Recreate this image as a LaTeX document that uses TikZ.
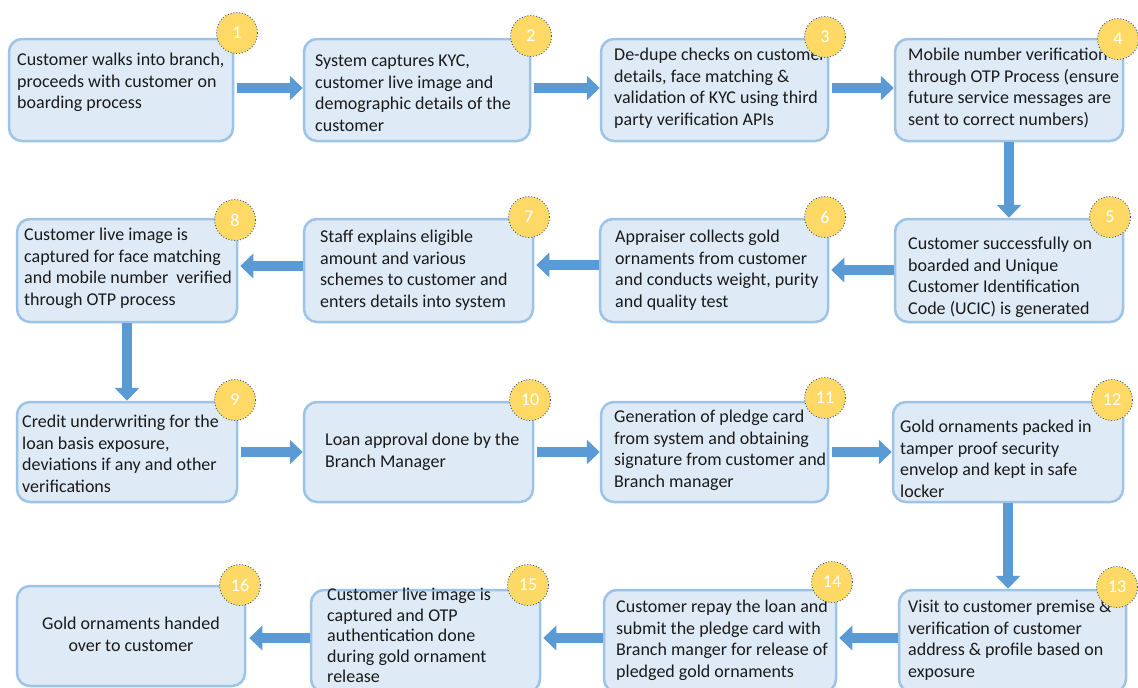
\documentclass[tikz,border=0pt]{standalone}
\usepackage{fontspec}
\setmainfont{Carlito}
\usetikzlibrary{arrows.meta}
\definecolor{boxfill}{HTML}{DEEBF7}
\definecolor{boxline}{HTML}{9DC3E6}
\definecolor{flowblue}{HTML}{5B9BD5}
\definecolor{badgefill}{HTML}{FFD966}
\definecolor{badgeline}{HTML}{2F5597}
\definecolor{txt}{HTML}{1A1A1A}
\begin{document}
\begin{tikzpicture}[x=1pt,y=-1pt,
 stepbox/.style={draw=boxline, fill=boxfill, line width=2.5pt, rounded corners=13pt, inner sep=0pt},
 steptext/.style={anchor=north west, inner sep=0pt, align=left, font=\fontsize{18}{21.5}\selectfont, text=txt},
 badge/.style={circle, fill=badgefill, draw=badgeline, dotted, line width=0.9pt, minimum size=41pt, inner sep=0pt, text=white, font=\fontsize{18}{20}\selectfont},
 flow/.style={draw=flowblue, line width=10pt, -{Triangle[length=13pt,width=24pt]}}]
\useasboundingbox (0,0) rectangle (1138,688);
% boxes
\node[stepbox, minimum width=224pt, minimum height=102pt] (b1) at (121,90) {};
\node[stepbox, minimum width=226pt, minimum height=102pt] (b2) at (417,90) {};
\node[stepbox, minimum width=227pt, minimum height=102pt] (b3) at (714.5,90) {};
\node[stepbox, minimum width=228pt, minimum height=102pt] (b4) at (1009,90) {};
\node[stepbox, minimum width=220pt, minimum height=103pt] (b8) at (127,270.5) {};
\node[stepbox, minimum width=229pt, minimum height=103pt] (b7) at (418.5,270.5) {};
\node[stepbox, minimum width=228pt, minimum height=103pt] (b6) at (714,270.5) {};
\node[stepbox, minimum width=228pt, minimum height=103pt] (b5) at (1009,270.5) {};
\node[stepbox, minimum width=220pt, minimum height=100pt] (b9) at (127,452) {};
\node[stepbox, minimum width=229pt, minimum height=100pt] (b10) at (418.5,452) {};
\node[stepbox, minimum width=227pt, minimum height=100pt] (b11) at (714.5,452) {};
\node[stepbox, minimum width=230pt, minimum height=100pt] (b12) at (1008,452) {};
\node[stepbox, minimum width=228pt, minimum height=100pt] (b16) at (131,636) {};
\node[stepbox, minimum width=229pt, minimum height=102pt] (b15) at (425.5,641) {};
\node[stepbox, minimum width=232pt, minimum height=102pt] (b14) at (720,641) {};
\node[stepbox, minimum width=227pt, minimum height=102pt] (b13) at (1012.5,641) {};
% texts
\node[steptext] (t1) at (17,53) {Customer walks into branch,\\proceeds with customer on\\boarding process};
\node[steptext] (t2) at (315,55) {System captures KYC,\\customer live image and\\demographic details of the\\customer};
\node[steptext] (t3) at (614,48) {De-dupe checks on customer\\details, face matching \&\\validation of KYC using third\\party verification APIs};
\node[steptext] (t4) at (908,48) {Mobile number verification -\\through OTP Process (ensure\\future service messages are\\sent to correct numbers)};
\node[steptext] (t8) at (24,228) {Customer live image is\\captured for face matching\\and mobile number~ verified\\through OTP process};
\node[steptext] (t7) at (320,230) {Staff explains eligible\\amount and various\\schemes to customer and\\enters details into system};
\node[steptext] (t6) at (615,230) {Appraiser collects gold\\ornaments from customer\\and conducts weight, purity\\and quality test};
\node[steptext] (t5) at (908,237) {Customer successfully on\\boarded and Unique\\Customer Identification\\Code (UCIC) is generated};
\node[steptext] (t9) at (22,415) {Credit underwriting for the\\loan basis exposure,\\deviations if any and other\\verifications};
\node[steptext] (t10) at (325,433) {Loan approval done by the\\Branch Manager};
\node[steptext] (t11) at (614,410) {Generation of pledge card\\from system and obtaining\\signature from customer and\\Branch manager};
\node[steptext] (t12) at (900,420) {Gold ornaments packed in\\tamper proof security\\envelop and kept in safe\\locker};
\node[steptext, anchor=north, align=center] (t16) at (131,617) {Gold ornaments handed\\over to customer};
\node[steptext, font=\fontsize{18}{20.5}\selectfont] (t15) at (327,588) {Customer live image is\\captured and OTP\\authentication done\\during gold ornament\\release};
\node[steptext] (t14) at (616,600) {Customer repay the loan and\\submit the pledge card with\\Branch manger for release of\\pledged gold ornaments};
\node[steptext] (t13) at (908,600) {Visit to customer premise \&\\verification of customer\\address \& profile based on\\exposure};
% arrows
\draw[flow] ([xshift=3pt]b1.east |- 0,88) -- (b2.west |- 0,88);
\draw[flow] ([xshift=3pt]b2.east |- 0,88) -- (b3.west |- 0,88);
\draw[flow] ([xshift=3pt]b3.east |- 0,88) -- (b4.west |- 0,88);
\draw[flow] (b4.south) -- (b5.north);
\draw[flow] (b5.west |- 0,270) -- ([xshift=2pt]b6.east |- 0,270);
\draw[flow] (b6.west |- 0,265) -- ([xshift=2pt]b7.east |- 0,265);
\draw[flow] (b7.west |- 0,266) -- ([xshift=2pt]b8.east |- 0,266);
\draw[flow] (b8.south) -- (b9.north);
\draw[flow] ([xshift=3pt]b9.east |- 0,452) -- (b10.west |- 0,452);
\draw[flow] ([xshift=3pt]b10.east |- 0,452) -- (b11.west |- 0,452);
\draw[flow] ([xshift=3pt]b11.east |- 0,452) -- (b12.west |- 0,452);
\draw[flow] (b12.south) -- (b12.south |- b13.north);
\draw[flow] (b13.west |- 0,638) -- ([xshift=2pt]b14.east |- 0,638);
\draw[flow] (b14.west |- 0,638) -- ([xshift=2pt]b15.east |- 0,638);
\draw[flow] (b15.west |- 0,638) -- ([xshift=3pt]b16.east |- 0,638);
% badges
\node[badge] (c1) at (237,33) {1};
\node[badge] (c2) at (531,36) {2};
\node[badge] (c3) at (825,37) {3};
\node[badge] (c4) at (1118,39) {4};
\node[badge] (c8) at (235,220) {8};
\node[badge] (c7) at (529,217) {7};
\node[badge] (c6) at (825,217) {6};
\node[badge] (c5) at (1110,217) {5};
\node[badge] (c9) at (235,400) {9};
\node[badge] (c10) at (530,400) {10};
\node[badge] (c11) at (825,398) {11};
\node[badge] (c12) at (1112,400) {12};
\node[badge] (c16) at (240,585) {16};
\node[badge] (c15) at (528,585) {15};
\node[badge] (c14) at (832,582) {14};
\node[badge] (c13) at (1117,587) {13};
\end{tikzpicture}
\end{document}
